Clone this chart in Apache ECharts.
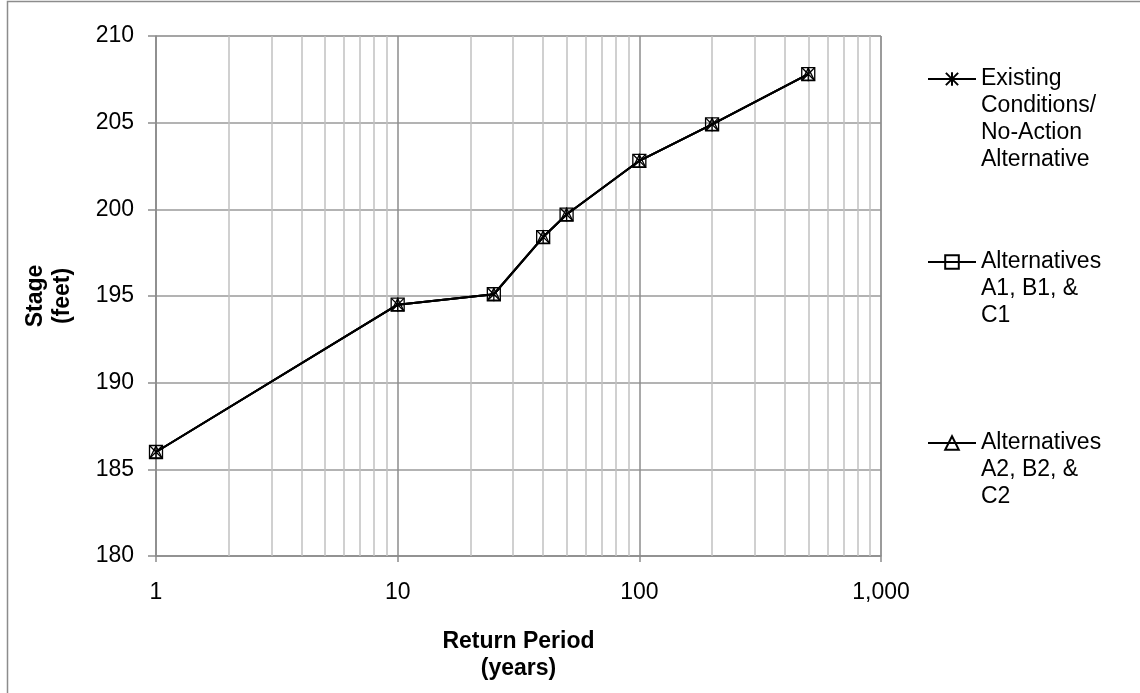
<!DOCTYPE html>
<html>
<head>
<meta charset="utf-8">
<script src="https://cdn.jsdelivr.net/npm/echarts@6/dist/echarts.min.js"></script>
<style>
  html, body { margin: 0; padding: 0; background: #fff; }
  #chart { width: 1140px; height: 693px; }
</style>
</head>
<body>
<div id="chart"></div>
<script>
// Return period (years) and water-surface stage (feet)
const RETURN_PERIOD = [1, 10, 25, 40, 50, 100, 200, 500];
const STAGE_EXISTING = [186.0, 194.5, 195.1, 198.4, 199.7, 202.8, 204.9, 207.8];
const STAGE_ALT_1 = [186.0, 194.5, 195.1, 198.4, 199.7, 202.8, 204.9, 207.8];
const STAGE_ALT_2 = [186.0, 194.5, 195.1, 198.4, 199.7, 202.8, 204.9, 207.8];

const SERIES_NAMES = [
  'Existing\nConditions/\nNo-Action\nAlternative',
  'Alternatives\nA1, B1, &\nC1',
  'Alternatives\nA2, B2, &\nC2'
];

// Minor gridlines between the decades of the log axis
const MINOR_GRID_X = [2, 3, 4, 5, 6, 7, 8, 9, 20, 30, 40, 50, 60, 70, 80, 90,
  200, 300, 400, 500, 600, 700, 800, 900];

const FONT = '"Liberation Sans", Arial, sans-serif';
const LINE_H = 27;

const SYMBOLS = {
  star: 'path://M10,0 L10,20 M1,1 L19,19 M1,19 L19,1 M0,10 L0,10.01 M20,10 L20,10.01',
  square: 'path://M0,0 L10,0 L10,10 L0,10 Z',
  triangle: 'path://M5,0 L10,10 L0,10 Z'
};

const pairs = ys => RETURN_PERIOD.map((x, i) => [x, ys[i]]);

function makeSeries(name, ys, symbol, size, extra) {
  return Object.assign({
    name: name,
    type: 'line',
    data: pairs(ys),
    symbol: symbol,
    symbolSize: size,
    symbolKeepAspect: true,
    showAllSymbol: true,
    lineStyle: { color: '#000', width: 2 },
    itemStyle: { color: 'rgba(0,0,0,0)', borderColor: '#000', borderWidth: 1.3 },
    emphasis: { disabled: true },
    animation: false
  }, extra || {});
}

// One legend block per series; the label is padded with blank lines above
// so that its first line sits level with the icon.
function legendBlock(name, iconCenterY) {
  const n = name.split('\n').length;
  const total = (2 * n - 1) * LINE_H;
  return {
    show: true,
    data: [name],
    orient: 'vertical',
    left: 927,
    top: iconCenterY - total / 2 + 1,
    padding: 0,
    itemWidth: 48,
    itemHeight: 17,
    itemGap: 0,
    selectedMode: false,
    formatter: label => '\n'.repeat(n - 1) + label,
    textStyle: {
      fontFamily: FONT,
      fontSize: 23,
      color: '#000',
      lineHeight: LINE_H
    }
  };
}

const chart = echarts.init(document.getElementById('chart'), null, { renderer: 'canvas' });

chart.setOption({
  backgroundColor: '#fff',
  animation: false,
  graphic: [{
    type: 'rect',
    shape: { x: 7.5, y: 1.5, width: 1300, height: 900 },
    style: { fill: 'none', stroke: '#8c8c8c', lineWidth: 1.5 },
    silent: true,
    z: -10
  }],
  grid: {
    left: 156, right: 259, top: 36, bottom: 137,
    show: true, borderColor: '#8c8c8c', borderWidth: 1,
    containLabel: false
  },
  legend: [
    legendBlock(SERIES_NAMES[0], 78),
    legendBlock(SERIES_NAMES[1], 261),
    legendBlock(SERIES_NAMES[2], 442)
  ],
  xAxis: {
    type: 'log',
    logBase: 10,
    min: 1,
    max: 1000,
    name: 'Return Period\n(years)',
    nameLocation: 'middle',
    nameGap: 72,
    nameTextStyle: { fontFamily: FONT, fontSize: 23, fontWeight: 'bold', color: '#000', lineHeight: LINE_H },
    axisLine: { show: true, lineStyle: { color: '#8c8c8c', width: 1.5 } },
    axisTick: { show: true, length: 6, lineStyle: { color: '#8c8c8c', width: 1.5 } },
    axisLabel: {
      fontFamily: FONT, fontSize: 23, color: '#000', margin: 25,
      formatter: v => Number(v).toLocaleString('en-US')
    },
    splitLine: { show: true, lineStyle: { color: '#8c8c8c', width: 1.5 } },
    minorTick: { show: false },
    minorSplitLine: { show: false }
  },
  yAxis: {
    type: 'value',
    min: 180,
    max: 210,
    interval: 5,
    name: 'Stage\n(feet)',
    nameLocation: 'middle',
    nameGap: 80,
    nameRotate: 90,
    nameTextStyle: { fontFamily: FONT, fontSize: 23, fontWeight: 'bold', color: '#000', lineHeight: LINE_H },
    axisLine: { show: true, lineStyle: { color: '#8c8c8c', width: 1.5 } },
    axisTick: { show: true, length: 8, lineStyle: { color: '#8c8c8c', width: 1.5 } },
    axisLabel: { fontFamily: FONT, fontSize: 23, color: '#000', margin: 22 },
    splitLine: { show: true, lineStyle: { color: '#9a9a9a', width: 1.5 } }
  },
  series: [
    makeSeries(SERIES_NAMES[0], STAGE_EXISTING, SYMBOLS.star, 14, {
      markLine: {
        silent: true,
        z: 1,
        symbol: ['none', 'none'],
        label: { show: false },
        lineStyle: { color: '#c0c0c0', type: 'solid', width: 1.5 },
        emphasis: { disabled: true },
        animation: false,
        data: MINOR_GRID_X.map(v => ({ xAxis: v }))
      }
    }),
    makeSeries(SERIES_NAMES[1], STAGE_ALT_1, SYMBOLS.square, 13),
    makeSeries(SERIES_NAMES[2], STAGE_ALT_2, SYMBOLS.triangle, 12)
  ]
});
</script>
</body>
</html>
